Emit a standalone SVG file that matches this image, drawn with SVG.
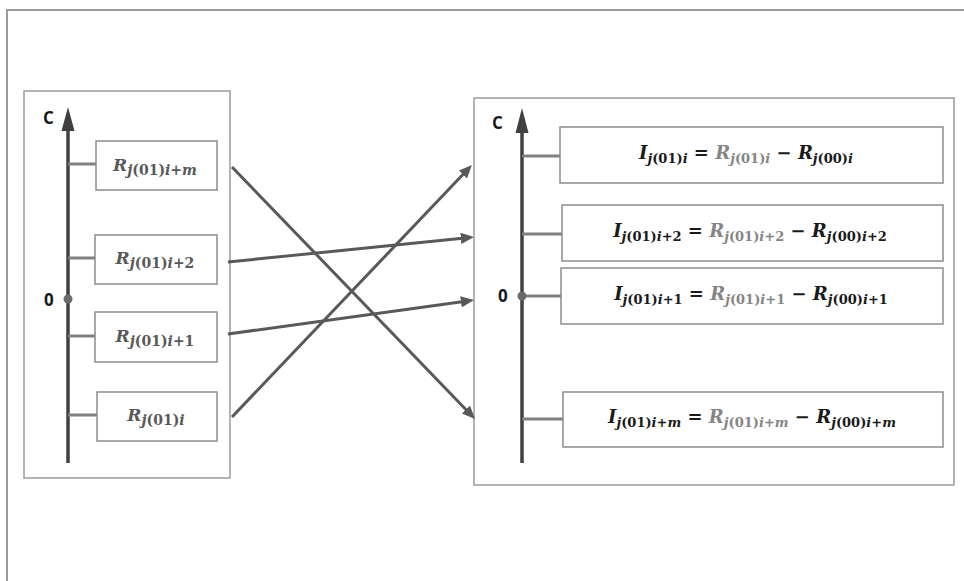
<svg xmlns="http://www.w3.org/2000/svg" width="964" height="581" viewBox="0 0 964 581">
  <style>
    .frame { fill: none; stroke: #9a9a9a; stroke-width: 2; }
    .panel { fill: #ffffff; stroke: #9a9a9a; stroke-width: 1.5; }
    .box { fill: #ffffff; stroke: #8c8c8c; stroke-width: 1.5; }
    .axis { stroke: #404040; stroke-width: 3.5; fill: none; }
    .axhead { fill: #404040; }
    .tick { stroke: #808080; stroke-width: 3; }
    .dot { fill: #6b6b6b; }
    .lbl { font-family: "Open Sans", "DejaVu Sans", sans-serif; font-weight: bold; font-size: 17px; fill: #1a1a1a; }
    .math { font-family: "DejaVu Serif", "Liberation Serif", serif; font-style: italic; font-weight: bold; }
    .lm { font-size: 17px; fill: #595959; }
    .rm { font-size: 18px; fill: #1a1a1a; }
    .up { font-style: normal; }
    .gry { fill: #858585; }
    .conn { stroke: #595959; stroke-width: 3; fill: none; marker-end: url(#head); }
  </style>
  <defs>
    <marker id="head" markerWidth="4.4" markerHeight="3.8" refX="2.2" refY="1.9" orient="auto" markerUnits="strokeWidth">
      <path d="M0,0 L4.4,1.9 L0,3.8 Z" fill="#595959"/>
    </marker>
  </defs>

  <!-- page frame -->
  <path class="frame" d="M7,581 V10 H964"/>

  <!-- left panel: raw values on the C axis -->
  <g id="left-panel">
    <rect class="panel" x="24" y="91" width="206" height="387"/>
    <line class="axis" x1="68" y1="463" x2="68" y2="126"/>
    <polygon class="axhead" points="68,107 74.5,131 61.5,131"/>
    <text class="lbl" x="43" y="124">C</text>
    <line class="tick" x1="68" y1="164" x2="96" y2="164"/>
    <line class="tick" x1="68" y1="258" x2="95" y2="258"/>
    <line class="tick" x1="68" y1="336" x2="95" y2="336"/>
    <line class="tick" x1="68" y1="415" x2="97" y2="415"/>
    <circle class="dot" cx="68" cy="299" r="4.5"/>
    <text class="lbl" x="44" y="306">0</text>
  </g>

  <g id="r-im">
    <rect class="box" x="96" y="141" width="121" height="49"/>
    <text class="math lm" x="155" y="171" text-anchor="middle">R<tspan dy="4" font-size="14">j<tspan class="up">(01)</tspan>i<tspan class="up">+</tspan>m</tspan></text>
  </g>
  <g id="r-i2">
    <rect class="box" x="95" y="235" width="122" height="49"/>
    <text class="math lm" x="155" y="264" text-anchor="middle">R<tspan dy="4" font-size="14">j<tspan class="up">(01)</tspan>i<tspan class="up">+2</tspan></tspan></text>
  </g>
  <g id="r-i1">
    <rect class="box" x="95" y="312" width="122" height="50"/>
    <text class="math lm" x="155" y="342" text-anchor="middle">R<tspan dy="4" font-size="14">j<tspan class="up">(01)</tspan>i<tspan class="up">+1</tspan></tspan></text>
  </g>
  <g id="r-i">
    <rect class="box" x="97" y="392" width="120" height="49"/>
    <text class="math lm" x="156" y="421" text-anchor="middle">R<tspan dy="4" font-size="14">j<tspan class="up">(01)</tspan>i</tspan></text>
  </g>

  <!-- right panel: differences on the C axis -->
  <g id="right-panel">
    <rect class="panel" x="474" y="98" width="480" height="387"/>
    <line class="axis" x1="522" y1="463" x2="522" y2="128"/>
    <polygon class="axhead" points="522,108 528.5,133 515.5,133"/>
    <text class="lbl" x="492" y="129">C</text>
    <line class="tick" x1="522" y1="156" x2="560" y2="156"/>
    <line class="tick" x1="522" y1="234" x2="562" y2="234"/>
    <line class="tick" x1="522" y1="296" x2="561" y2="296"/>
    <line class="tick" x1="522" y1="419" x2="563" y2="419"/>
    <circle class="dot" cx="522" cy="296" r="4.5"/>
    <text class="lbl" x="498" y="302">0</text>
  </g>

  <g id="i-i">
    <rect class="box" x="560" y="127" width="383" height="56"/>
    <text class="math rm" x="746" y="159" text-anchor="middle">I<tspan dy="4" font-size="13">j<tspan class="up">(01)</tspan>i</tspan><tspan dy="-4" class="up"> = </tspan><tspan class="gry">R<tspan dy="4" font-size="13">j<tspan class="up">(01)</tspan>i</tspan></tspan><tspan dy="-4" class="up"> − </tspan>R<tspan dy="4" font-size="13">j<tspan class="up">(00)</tspan>i</tspan></text>
  </g>
  <g id="i-i2">
    <rect class="box" x="562" y="205" width="381" height="56"/>
    <text class="math rm" x="750" y="237" text-anchor="middle">I<tspan dy="4" font-size="13">j<tspan class="up">(01)</tspan>i<tspan class="up">+2</tspan></tspan><tspan dy="-4" class="up"> = </tspan><tspan class="gry">R<tspan dy="4" font-size="13">j<tspan class="up">(01)</tspan>i<tspan class="up">+2</tspan></tspan></tspan><tspan dy="-4" class="up"> − </tspan>R<tspan dy="4" font-size="13">j<tspan class="up">(00)</tspan>i<tspan class="up">+2</tspan></tspan></text>
  </g>
  <g id="i-i1">
    <rect class="box" x="561" y="268" width="382" height="56"/>
    <text class="math rm" x="751" y="300" text-anchor="middle">I<tspan dy="4" font-size="13">j<tspan class="up">(01)</tspan>i<tspan class="up">+1</tspan></tspan><tspan dy="-4" class="up"> = </tspan><tspan class="gry">R<tspan dy="4" font-size="13">j<tspan class="up">(01)</tspan>i<tspan class="up">+1</tspan></tspan></tspan><tspan dy="-4" class="up"> − </tspan>R<tspan dy="4" font-size="13">j<tspan class="up">(00)</tspan>i<tspan class="up">+1</tspan></tspan></text>
  </g>
  <g id="i-im">
    <rect class="box" x="563" y="392" width="380" height="55"/>
    <text class="math rm" x="752" y="423" text-anchor="middle">I<tspan dy="4" font-size="13">j<tspan class="up">(01)</tspan>i<tspan class="up">+</tspan>m</tspan><tspan dy="-4" class="up"> = </tspan><tspan class="gry">R<tspan dy="4" font-size="13">j<tspan class="up">(01)</tspan>i<tspan class="up">+</tspan>m</tspan></tspan><tspan dy="-4" class="up"> − </tspan>R<tspan dy="4" font-size="13">j<tspan class="up">(00)</tspan>i<tspan class="up">+</tspan>m</tspan></text>
  </g>

  <!-- mapping arrows -->
  <g id="connectors">
    <line class="conn" x1="232" y1="167" x2="470.4" y2="414.2"/>
    <line class="conn" x1="228" y1="262" x2="467.4" y2="237.7"/>
    <line class="conn" x1="228" y1="334" x2="467.5" y2="300.9"/>
    <line class="conn" x1="232" y1="417" x2="467.4" y2="169.8"/>
  </g>
</svg>
